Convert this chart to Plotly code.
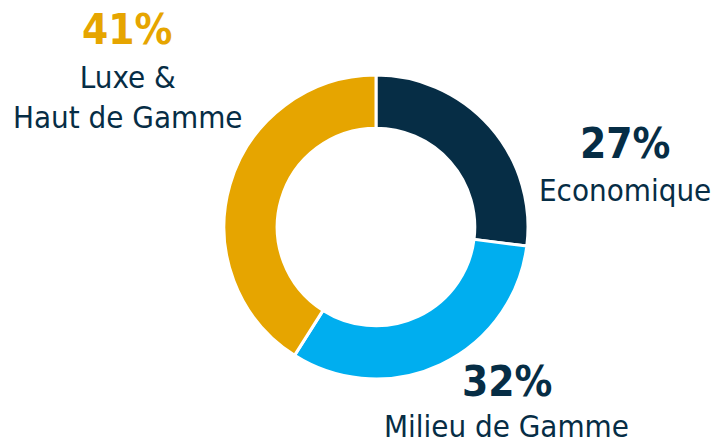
import plotly.graph_objects as go

segments = ["Economique", "Milieu de Gamme", "Luxe &<br>Haut de Gamme"]
shares = [27, 32, 41]
colors = ["#062D45", "#00AEEF", "#E6A500"]

W, H = 713, 443
navy = "#062D45"
font = "DejaVu Sans Condensed"

fig = go.Figure()
fig.add_trace(
    go.Pie(
        labels=segments,
        values=shares,
        sort=False,
        direction="clockwise",
        rotation=0,
        hole=0.65,
        marker=dict(colors=colors, line=dict(color="white", width=3)),
        textinfo="none",
        hoverinfo="label+percent",
        domain=dict(x=[224 / W, 528 / W], y=[1 - 379 / H, 1 - 75 / H]),
        showlegend=False,
    )
)

# label positions in pixels: (pct x, pct y, name y)
label_pos = [(625, 143, 190), (507, 381, 426), (127, 30, 97)]
pct_colors = [navy, navy, "#E6A500"]

for name, share, (px, py, ny), pc in zip(segments, shares, label_pos, pct_colors):
    fig.add_annotation(
        x=px / W, y=1 - py / H, xref="paper", yref="paper",
        text=f"<b>{share}%</b>", showarrow=False,
        xanchor="center", yanchor="middle",
        font=dict(family=font, size=42, color=pc),
    )
    fig.add_annotation(
        x=px / W, y=1 - ny / H, xref="paper", yref="paper",
        text=name, showarrow=False,
        xanchor="center", yanchor="middle", align="center",
        font=dict(family=font, size=31, color=navy),
    )

fig.update_layout(
    width=W, height=H,
    margin=dict(l=0, r=0, t=0, b=0),
    paper_bgcolor="white",
    plot_bgcolor="white",
)
# drop the default 8px body margin so the chart sits at the window corner
fig.write_html(
    "out.html",
    config={"displayModeBar": False},
    post_script="document.body.style.margin='0';document.body.style.overflow='hidden';",
)
